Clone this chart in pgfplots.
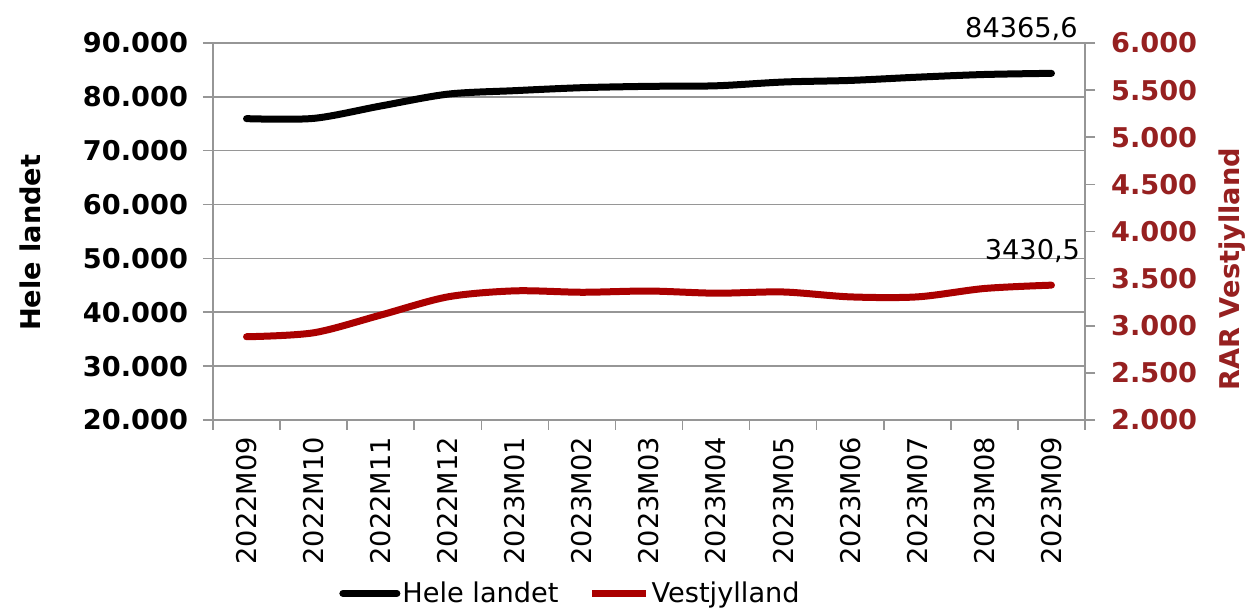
\documentclass[border=0pt]{standalone}
\usepackage{fontspec}
\setmainfont{DejaVu Sans}
\usepackage{pgfplots}
\pgfplotsset{compat=1.18}

\definecolor{linered}{RGB}{170,0,0}
\definecolor{axred}{RGB}{150,32,32}
\definecolor{axgray}{RGB}{150,150,150}
\newcommand\fs{\fontsize{13.6}{16}\selectfont}

\pgfplotsset{
  base/.style={
    scale only axis, width=436pt, height=188.5pt,
    xmin=-0.5, xmax=12.5, clip=false,
    /pgf/number format/assume math mode=true,
    /pgf/number format/1000 sep={.},
    scaled y ticks=false,
    tick align=outside, major tick length=5pt, minor tick length=5pt,
    tick style={axgray, line width=0.8pt},
    axis line style={axgray, line width=0.8pt},
    tick label style={font=\fs},
  },
}

\begin{document}
\begin{tikzpicture}
\begin{axis}[base, name=ax,
  ymin=20000, ymax=90000, ytick={20000,30000,...,90000},
  axis x line*=bottom, axis y line*=left,
  ymajorgrids, grid style={axgray, line width=0.8pt},
  yticklabel style={font=\fs\bfseries, xshift=-4pt},
  xtick={0,...,12},
  xticklabels={2022M09,2022M10,2022M11,2022M12,2023M01,2023M02,2023M03,2023M04,2023M05,2023M06,2023M07,2023M08,2023M09},
  x tick label style={rotate=90, anchor=east},
  major x tick style={draw=none},
  minor xtick={-0.5,0.5,...,12.5},
  ylabel={Hele landet},
  ylabel style={font=\fs\bfseries, at={(axis description cs:-0.21,0.47)}, anchor=center},
  legend columns=2,
  legend style={at={(axis description cs:0.41,-0.46)}, anchor=center, draw=none, fill=none, font=\fs,
    /tikz/every even column/.append style={column sep=14pt},
    nodes={inner xsep=1pt}},
  legend image code/.code={\draw[#1] (0pt,0pt) -- (27pt,0pt);},
]
\addplot[black, line width=3.5pt, line cap=round, smooth] coordinates {
(0,75950) (1,76000) (2,78300) (3,80500) (4,81150) (5,81700) (6,81950)
(7,82050) (8,82750) (9,83050) (10,83650) (11,84150) (12,84365.6)
};
\addlegendentry{Hele landet}
\addlegendimage{linered, line width=3.5pt}
\addlegendentry{Vestjylland}
\node[font=\fs, xshift=-15pt, yshift=22pt] at (axis cs:12,84365.6) {84365,6};
\end{axis}

\begin{axis}[base,
  ymin=2000, ymax=6000, ytick={2000,2500,...,6000},
  axis y line*=right, axis x line=none,
  yticklabel style={font=\fs\bfseries, color=axred, xshift=4.5pt},
  ylabel={RAR Vestjylland},
  ylabel style={font=\fs\bfseries, color=axred, at={(axis description cs:1.169,0.40)}, anchor=center},
]
\addplot[linered, line width=3.5pt, line cap=round, smooth] coordinates {
(0,2883) (1,2925) (2,3113) (3,3306) (4,3370) (5,3355) (6,3368)
(7,3345) (8,3358) (9,3306) (10,3306) (11,3395) (12,3430.5)
};
\node[font=\fs, xshift=-9.5pt, yshift=17pt] at (axis cs:12,3430.5) {3430,5};
\end{axis}

\pgfresetboundingbox
\path ([xshift=-106.5pt,yshift=-94pt]ax.south west) rectangle ([xshift=82pt,yshift=21.5pt]ax.north east);
\end{tikzpicture}
\end{document}
